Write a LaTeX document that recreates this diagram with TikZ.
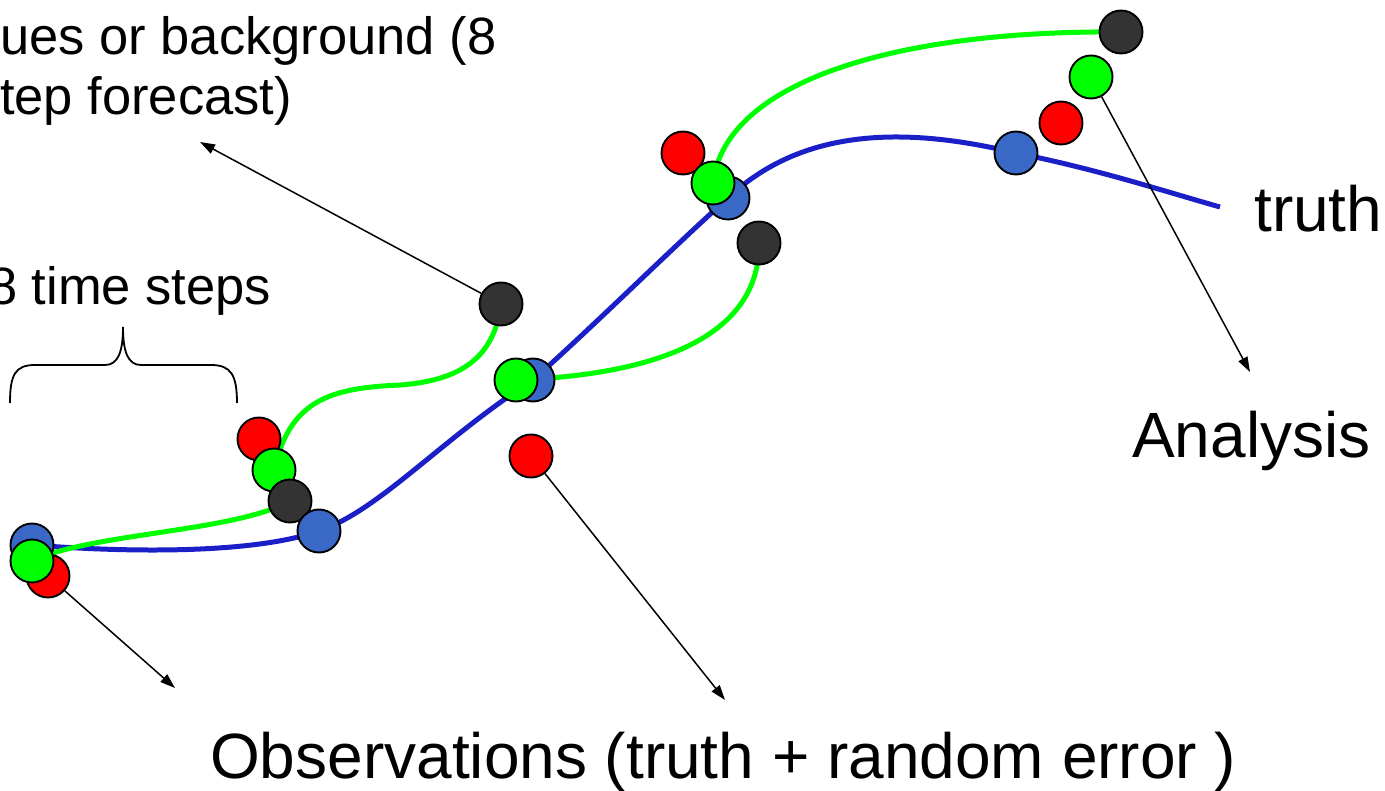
\documentclass[tikz,border=0pt]{standalone}
\usepackage{fontspec}
\setmainfont{Liberation Sans}
\usetikzlibrary{arrows.meta,backgrounds}
\definecolor{truthblue}{HTML}{3A68C6}
\definecolor{truthline}{HTML}{1A1FC8}
\definecolor{obsred}{HTML}{FF0000}
\definecolor{anagreen}{HTML}{00FF00}
\definecolor{fcstgrey}{HTML}{333333}

\begin{document}
\begin{tikzpicture}[x=1pt, y=-1pt, >={Triangle[length=15pt,width=10pt]},
  ball/.style={circle, draw=black, line width=1.9pt, minimum size=43pt, inner sep=0pt},
  truthball/.style={ball, fill=truthblue},
  obsball/.style={ball, fill=obsred},
  anaball/.style={ball, fill=anagreen},
  fcstball/.style={ball, fill=fcstgrey},
  bigtext/.style={anchor=base west, inner sep=0pt, font=\fontsize{64}{72}\selectfont},
  smalltext/.style={anchor=base west, inner sep=0pt, font=\fontsize{52.5}{60}\selectfont},
  truth/.style={line width=5pt, draw=truthline},
  analysis/.style={line width=5pt, draw=anagreen},
  pointer/.style={->, line width=1.5pt, draw=black},
  brace/.style={line width=1.8pt, draw=black}]
  \useasboundingbox (0,0) rectangle (1385,791);
  \clip (0,0) rectangle (1385,791);

  \node[truthball] (truth0) at (32,545) {};
  \node[obsball] (obs0) at (48,576) {};
  \node[anaball] (ana0) at (32,561) {};

  \node[obsball] (obs1) at (259,439) {};
  \node[anaball] (ana1) at (274,470) {};
  \node[fcstball] (fcst1) at (290,501) {};
  \node[truthball] (truth1) at (319,531) {};

  \node[fcstball] (fcst2) at (501,304) {};
  \node[truthball] (truth2) at (533,380) {};
  \node[anaball] (ana2) at (516,380) {};
  \node[obsball] (obs2) at (531,456) {};

  \node[obsball] (obs3) at (683,153) {};
  \node[truthball] (truth3) at (728,198) {};
  \node[anaball] (ana3) at (713,183) {};
  \node[fcstball] (fcst3) at (759,243) {};

  \node[truthball] (truth4) at (1016,153) {};
  \node[obsball] (obs4) at (1061,123) {};
  \node[anaball] (ana4) at (1091,77) {};
  \node[fcstball] (fcst4) at (1121,32) {};

  \coordinate (truthend) at (1220,207);
  \begin{scope}[on background layer]
    \draw[truth] (truth0.center) .. controls (120,552) and (250,555) .. (truth1.center)
      .. controls (380,510) and (440,440) .. (truth2.center)
      .. controls (600,320) and (670,250) .. (truth3.center)
      .. controls (800,130) and (900,125) .. (truth4.center)
      .. controls (1100,170) and (1160,190) .. (truthend);
    \draw[analysis] (ana0.center) .. controls (90,533) and (235,532) .. (fcst1.center);
    \draw[analysis] (ana1.center) .. controls (290,400) and (330,388) .. (400,385)
      .. controls (470,380) and (495,350) .. (fcst2.center);
    \draw[analysis] (ana2.center) .. controls (650,375) and (760,340) .. (fcst3.center);
    \draw[analysis] (ana3.center) .. controls (725,80) and (900,30) .. (fcst4.center);
  \end{scope}

  \node[smalltext] (bgline1) at (0,55) {ues or background (8};
  \node[smalltext] (bgline2) at (0,115) {tep forecast)};
  \node[smalltext] (steps) at (-12,305) {8 time steps};
  \node[bigtext] (truthtext) at (1254,232) {truth};
  \node[bigtext] (anatext) at (1132,458) {Analysis};
  \node[bigtext] (obstext) at (210,778) {Observations (truth + random error )};

  \draw[brace] (10,403) .. controls (10,375) and (15,365) .. (35,365) -- (105,365)
    .. controls (118,365) and (123,352) .. (123,327)
    .. controls (123,352) and (128,365) .. (141,365) -- (211,365)
    .. controls (231,365) and (237,375) .. (237,403);

  \coordinate (bgtip) at (200,142);
  \coordinate (obstipA) at (175,688);
  \coordinate (obstipB) at (725,700);
  \coordinate (anatip) at (1250,372);
  \draw[pointer] (fcst2) -- (bgtip);
  \draw[pointer] (obs0) -- (obstipA);
  \draw[pointer] (obs2) -- (obstipB);
  \draw[pointer] (ana4) -- (anatip);
\end{tikzpicture}
\end{document}
